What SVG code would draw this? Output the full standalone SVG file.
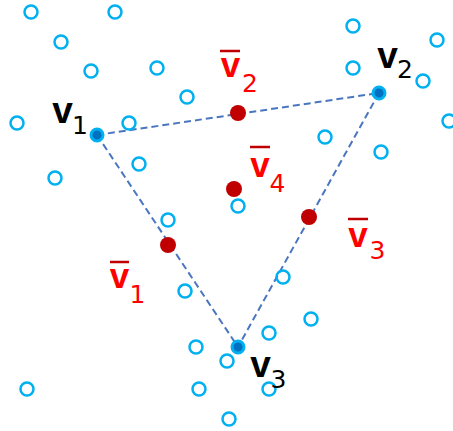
<svg xmlns="http://www.w3.org/2000/svg" width="453" height="431" viewBox="0 0 453 431">
<style>
.pt{fill:none;stroke:#00B0F0;stroke-width:2.5}
.vx{fill:#0070C0;stroke:#00B0F0;stroke-width:3}
.md{fill:#C00000}
.edge{stroke:#4A76C0;stroke-width:2;stroke-dasharray:7 4;fill:none}
.vb{font-family:"Liberation Sans",Arial,sans-serif;font-weight:bold;font-size:37px;text-anchor:middle}
.vr{font-family:"Liberation Sans",Arial,sans-serif;font-weight:bold;font-size:35px;text-anchor:middle;fill:#FF0000}
.sub{font-family:"DejaVu Sans",sans-serif;font-size:25px;text-anchor:middle}
.bar{stroke:#C00000;stroke-width:2.5}
</style>
<rect width="453" height="431" fill="#fff"/>
<g id="connectors">
<line class="edge" x1="97" y1="135" x2="379" y2="93"/>
<line class="edge" x1="379" y1="93" x2="238" y2="347"/>
<line class="edge" x1="97" y1="135" x2="238" y2="347"/>
</g>
<g id="points">
<circle class="pt" cx="31" cy="12" r="6.5"/>
<circle class="pt" cx="115" cy="12" r="6.5"/>
<circle class="pt" cx="61" cy="42" r="6.5"/>
<circle class="pt" cx="91" cy="71" r="6.5"/>
<circle class="pt" cx="157" cy="68" r="6.5"/>
<circle class="pt" cx="187" cy="97" r="6.5"/>
<circle class="pt" cx="17" cy="123" r="6.5"/>
<circle class="pt" cx="129" cy="123" r="6.5"/>
<circle class="pt" cx="139" cy="164" r="6.5"/>
<circle class="pt" cx="55" cy="178" r="6.5"/>
<circle class="pt" cx="168" cy="220" r="6.5"/>
<circle class="pt" cx="353" cy="26" r="6.5"/>
<circle class="pt" cx="437" cy="40" r="6.5"/>
<circle class="pt" cx="353" cy="68" r="6.5"/>
<circle class="pt" cx="423" cy="81" r="6.5"/>
<circle class="pt" cx="449" cy="121" r="6.5"/>
<circle class="pt" cx="325" cy="137" r="6.5"/>
<circle class="pt" cx="381" cy="152" r="6.5"/>
<circle class="pt" cx="238" cy="206" r="6.5"/>
<circle class="pt" cx="185" cy="291" r="6.5"/>
<circle class="pt" cx="196" cy="347" r="6.5"/>
<circle class="pt" cx="227" cy="361" r="6.5"/>
<circle class="pt" cx="27" cy="389" r="6.5"/>
<circle class="pt" cx="199" cy="389" r="6.5"/>
<circle class="pt" cx="229" cy="419" r="6.5"/>
<circle class="pt" cx="283" cy="277" r="6.5"/>
<circle class="pt" cx="311" cy="319" r="6.5"/>
<circle class="pt" cx="269" cy="333" r="6.5"/>
<circle class="pt" cx="269" cy="389" r="6.5"/>
</g>
<g id="v1">
<circle class="vx" cx="97" cy="135" r="6"/>
<text class="vb" x="62.5" y="123">v</text>
<text class="sub" x="80" y="134">1</text>
</g>
<g id="v2">
<circle class="vx" cx="379" cy="93" r="6"/>
<text class="vb" x="387.5" y="68">v</text>
<text class="sub" x="405" y="78">2</text>
</g>
<g id="v3">
<circle class="vx" cx="238" cy="347" r="6"/>
<text class="vb" x="260.5" y="377">v</text>
<text class="sub" x="278.5" y="388">3</text>
</g>
<g id="vbar1">
<circle class="md" cx="168" cy="245" r="8"/>
<line class="bar" x1="110" y1="262" x2="129" y2="262"/>
<text class="vr" x="119.5" y="288">v</text>
<text class="sub" x="137.5" y="303" fill="#FF0000">1</text>
</g>
<g id="vbar2">
<circle class="md" cx="238" cy="113" r="8"/>
<line class="bar" x1="220" y1="51" x2="240" y2="51"/>
<text class="vr" x="230.5" y="77">v</text>
<text class="sub" x="250" y="92" fill="#FF0000">2</text>
</g>
<g id="vbar3">
<circle class="md" cx="309" cy="217" r="8"/>
<line class="bar" x1="348" y1="219" x2="368" y2="219"/>
<text class="vr" x="358" y="247">v</text>
<text class="sub" x="377.5" y="259" fill="#FF0000">3</text>
</g>
<g id="vbar4">
<circle class="md" cx="234" cy="189" r="8"/>
<line class="bar" x1="250" y1="147" x2="270" y2="147"/>
<text class="vr" x="260" y="177">v</text>
<text class="sub" x="277.5" y="192" fill="#FF0000">4</text>
</g>
</svg>
